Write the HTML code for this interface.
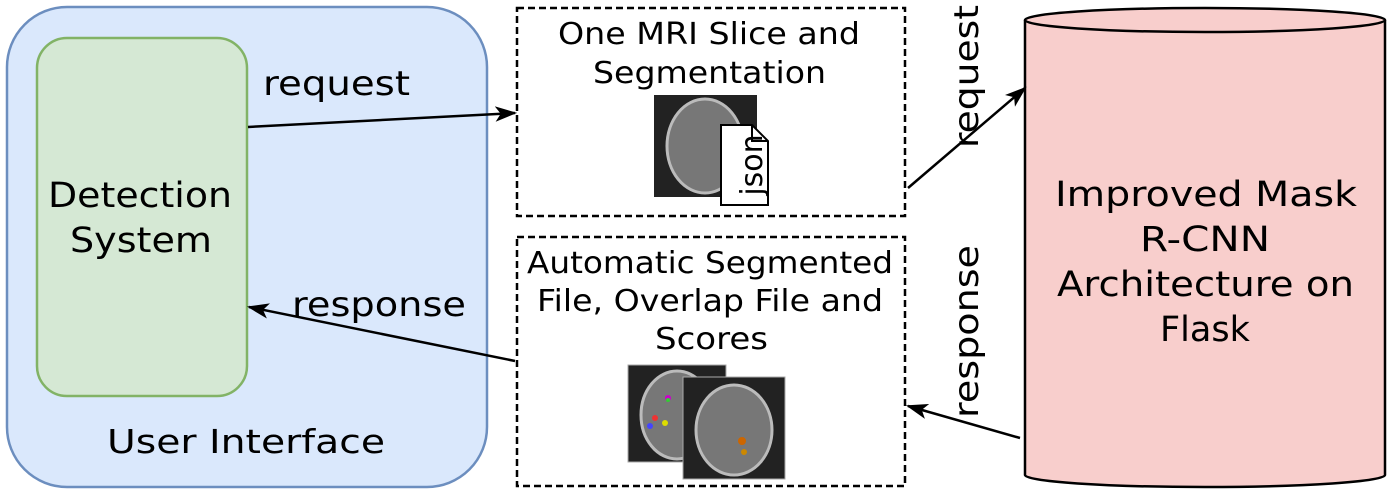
<!DOCTYPE html>
<html><head><style>body{margin:0;background:#fff}svg{display:block}text{font-family:"DejaVu Sans",sans-serif;fill:#000}</style></head><body>
<svg width="1395" height="498" viewBox="0 0 1395 498" xmlns="http://www.w3.org/2000/svg">
<defs>
<marker id="b" viewBox="0 0 20 14" refX="18" refY="7" markerWidth="22" markerHeight="16" orient="auto" markerUnits="userSpaceOnUse"><path d="M0,0 L20,7 L0,14 L5,7Z" fill="#000"/></marker></defs>
<rect x="7" y="7" width="480" height="480" rx="60" fill="#dae8fc" stroke="#6c8ebf" stroke-width="2.5"/>
<rect x="37" y="38" width="210" height="358" rx="30" fill="#d5e8d4" stroke="#82b366" stroke-width="2.5"/>
<text x="48" y="207" font-size="35" textLength="184" lengthAdjust="spacingAndGlyphs">Detection</text>
<text x="70" y="252" font-size="35" textLength="142" lengthAdjust="spacingAndGlyphs">System</text>
<text x="107" y="453" font-size="33" textLength="278" lengthAdjust="spacingAndGlyphs">User Interface</text>
<text x="263" y="95" font-size="34" textLength="147" lengthAdjust="spacingAndGlyphs">request</text>
<text x="292" y="316" font-size="34" textLength="174" lengthAdjust="spacingAndGlyphs">response</text>
<rect x="517" y="8" width="388" height="208" fill="#fff" stroke="#000" stroke-width="2.5" stroke-dasharray="7,4"/>
<text x="558" y="44" font-size="30" textLength="302" lengthAdjust="spacingAndGlyphs">One MRI Slice and</text>
<text x="593" y="83" font-size="30" textLength="233" lengthAdjust="spacingAndGlyphs">Segmentation</text>
<rect x="654" y="95" width="103" height="102" fill="#222"/>
<ellipse cx="705" cy="146" rx="38" ry="47" fill="#777" stroke="#bbb" stroke-width="3"/>
<path d="M721,125 L752,125 L768,141 L768,205 L721,205Z" fill="#fff" stroke="#000" stroke-width="2"/>
<path d="M752,125 L752,141 L768,141" fill="none" stroke="#000" stroke-width="2"/>
<text transform="translate(762,165) rotate(-90)" font-size="30" text-anchor="middle">json</text>
<rect x="517" y="237" width="388" height="249" fill="#fff" stroke="#000" stroke-width="2.5" stroke-dasharray="7,4"/>
<text x="527" y="273" font-size="30" textLength="366" lengthAdjust="spacingAndGlyphs">Automatic Segmented</text>
<text x="537" y="311" font-size="30" textLength="346" lengthAdjust="spacingAndGlyphs">File, Overlap File and</text>
<text x="655" y="349" font-size="30" textLength="113" lengthAdjust="spacingAndGlyphs">Scores</text>
<rect x="628" y="365" width="98" height="97" fill="#222" stroke="#aaa"/>
<ellipse cx="677" cy="415" rx="36" ry="44" fill="#777" stroke="#bbb" stroke-width="3"/>
<circle cx="668" cy="398" r="3" fill="#c0c"/><circle cx="655" cy="418" r="3" fill="#e33"/><circle cx="665" cy="423" r="3" fill="#dd0"/><circle cx="650" cy="426" r="3" fill="#44f"/><circle cx="668" cy="400" r="2" fill="#3c3"/>
<rect x="683" y="377" width="102" height="102" fill="#222" stroke="#aaa"/>
<ellipse cx="734" cy="430" rx="38" ry="45" fill="#777" stroke="#bbb" stroke-width="3"/>
<circle cx="742" cy="441" r="4" fill="#c60"/><circle cx="744" cy="452" r="3" fill="#c80"/>
<path d="M1025,20 L1025,475 A180,12 0 0 0 1385,475 L1385,20" fill="#f8cecc" stroke="#000" stroke-width="2.5"/>
<ellipse cx="1205" cy="20" rx="180" ry="12" fill="#f8cecc" stroke="#000" stroke-width="2.5"/>
<text x="1055" y="206" font-size="35" textLength="302" lengthAdjust="spacingAndGlyphs">Improved Mask</text>
<text x="1140" y="251" font-size="35" textLength="130" lengthAdjust="spacingAndGlyphs">R-CNN</text>
<text x="1057" y="296" font-size="35" textLength="297" lengthAdjust="spacingAndGlyphs">Architecture on</text>
<text x="1160" y="341" font-size="35" textLength="90" lengthAdjust="spacingAndGlyphs">Flask</text>
<line x1="248" y1="127" x2="515" y2="113" stroke="#000" stroke-width="2.5" marker-end="url(#b)"/>
<line x1="515" y1="361" x2="249" y2="307" stroke="#000" stroke-width="2.5" marker-end="url(#b)"/>
<line x1="908" y1="188" x2="1025" y2="88" stroke="#000" stroke-width="2.5" marker-end="url(#b)"/>
<line x1="1020" y1="438" x2="908" y2="406" stroke="#000" stroke-width="2.5" marker-end="url(#b)"/>
<text transform="translate(978,148) rotate(-90)" font-size="34" textLength="143" lengthAdjust="spacingAndGlyphs">request</text>
<text transform="translate(978,418) rotate(-90)" font-size="34" textLength="173" lengthAdjust="spacingAndGlyphs">response</text>
</svg>
</body></html>
